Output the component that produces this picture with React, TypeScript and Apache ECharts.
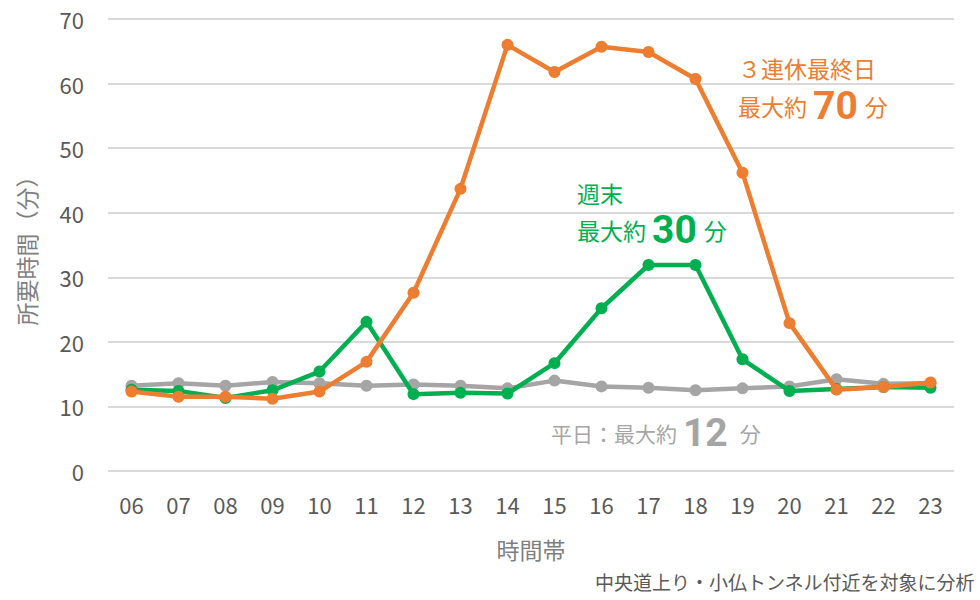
import React, { useEffect, useRef } from "react";
import * as echarts from "echarts";

const hours = ["06", "07", "08", "09", "10", "11", "12", "13", "14", "15", "16", "17", "18", "19", "20", "21", "22", "23"];
const holidayLast = [12.3, 11.5, 11.5, 11.2, 12.3, 16.9, 27.6, 43.7, 66.0, 61.8, 65.7, 64.9, 60.7, 46.2, 22.9, 12.6, 13.0, 13.7];
const weekend = [12.6, 12.4, 11.3, 12.5, 15.4, 23.1, 11.9, 12.1, 12.0, 16.7, 25.2, 31.9, 31.9, 17.3, 12.4, 12.7, 13.0, 12.9];
const weekday = [13.2, 13.6, 13.2, 13.8, 13.6, 13.2, 13.4, 13.2, 12.8, 14.0, 13.1, 12.9, 12.5, 12.8, 13.1, 14.2, 13.5, 13.6];
const yTicks = { min: 0, max: 70, interval: 10 };

const ORANGE = "#ED7D31";
const GREEN = "#00B050";
const GRAY = "#A5A5A5";
const FONT = "'Noto Sans CJK JP', 'Noto Sans', sans-serif";
const NUMFONT = "Roboto, 'Noto Sans', sans-serif";

export default function App() {
  const ref = useRef<HTMLDivElement>(null);
  useEffect(() => {
    if (!ref.current) return;
    const chart = echarts.init(ref.current, null, { renderer: "svg" });
    const mk = (name: string, data: number[], color: string, z: number) => ({
      name,
      type: "line",
      data,
      z,
      symbol: "circle",
      symbolSize: 12,
      lineStyle: { color, width: 4.5 },
      itemStyle: { color },
    });
    const rich = (color: string, small: number, padR: number) => ({
      a: { fontSize: small, fill: color, fontWeight: "normal", fontFamily: FONT },
      b: { fontSize: 39, fill: color, fontWeight: "bold", fontFamily: NUMFONT, padding: [0, padR, 0, 6] },
    });
    chart.setOption({
      animation: false,
      textStyle: { fontFamily: FONT },
      grid: { left: 108, right: 26, top: 19, bottom: 129 },
      xAxis: {
        type: "category",
        data: hours,
        boundaryGap: true,
        axisLine: { show: false },
        axisTick: { show: false },
        axisLabel: { color: "#595959", fontSize: 22, margin: 22, fontFamily: FONT },
        name: "時間帯",
        nameLocation: "middle",
        nameGap: 66,
        nameTextStyle: { color: "#7F7F7F", fontSize: 23, fontFamily: FONT },
      },
      yAxis: {
        type: "value",
        min: yTicks.min,
        max: yTicks.max,
        interval: yTicks.interval,
        axisLine: { show: false },
        axisTick: { show: false },
        splitLine: { lineStyle: { color: "#D9D9D9", width: 2 } },
        axisLabel: { color: "#595959", fontSize: 22, margin: 24, fontFamily: FONT },
        name: "所要時間（分）",
        nameLocation: "middle",
        nameGap: 71,
        nameRotate: 90,
        nameTextStyle: { color: "#7F7F7F", fontSize: 23, fontFamily: FONT },
      },
      series: [
        mk("平日", weekday, GRAY, 2),
        mk("週末", weekend, GREEN, 3),
        mk("３連休最終日", holidayLast, ORANGE, 4),
      ],
      graphic: [
        {
          type: "text",
          x: 738,
          y: 68,
          style: { text: "３連休最終日", fill: ORANGE, fontSize: 23, fontFamily: FONT, verticalAlign: "middle" },
        },
        {
          type: "text",
          x: 738,
          y: 106,
          style: {
            text: "{a|最大約}{b|70}{a|分}",
            verticalAlign: "middle",
            rich: rich(ORANGE, 23, 7),
          },
        },
        {
          type: "text",
          x: 577,
          y: 193,
          style: { text: "週末", fill: GREEN, fontSize: 23, fontFamily: FONT, verticalAlign: "middle" },
        },
        {
          type: "text",
          x: 577,
          y: 230,
          style: {
            text: "{a|最大約}{b|30}{a|分}",
            verticalAlign: "middle",
            rich: rich(GREEN, 23, 7),
          },
        },
        {
          type: "text",
          x: 551,
          y: 433,
          style: {
            text: "{a|平日：最大約}{b|12}{a|分}",
            verticalAlign: "middle",
            rich: rich(GRAY, 21, 12),
          },
        },
        {
          type: "text",
          right: 5,
          top: 572,
          style: { text: "中央道上り・小仏トンネル付近を対象に分析", fill: "#595959", fontSize: 19, fontFamily: FONT },
        },
      ],
    });
    return () => chart.dispose();
  }, []);
  return <div ref={ref} style={{ width: 980, height: 600, position: "absolute", left: 0, top: 0 }} />;
}
